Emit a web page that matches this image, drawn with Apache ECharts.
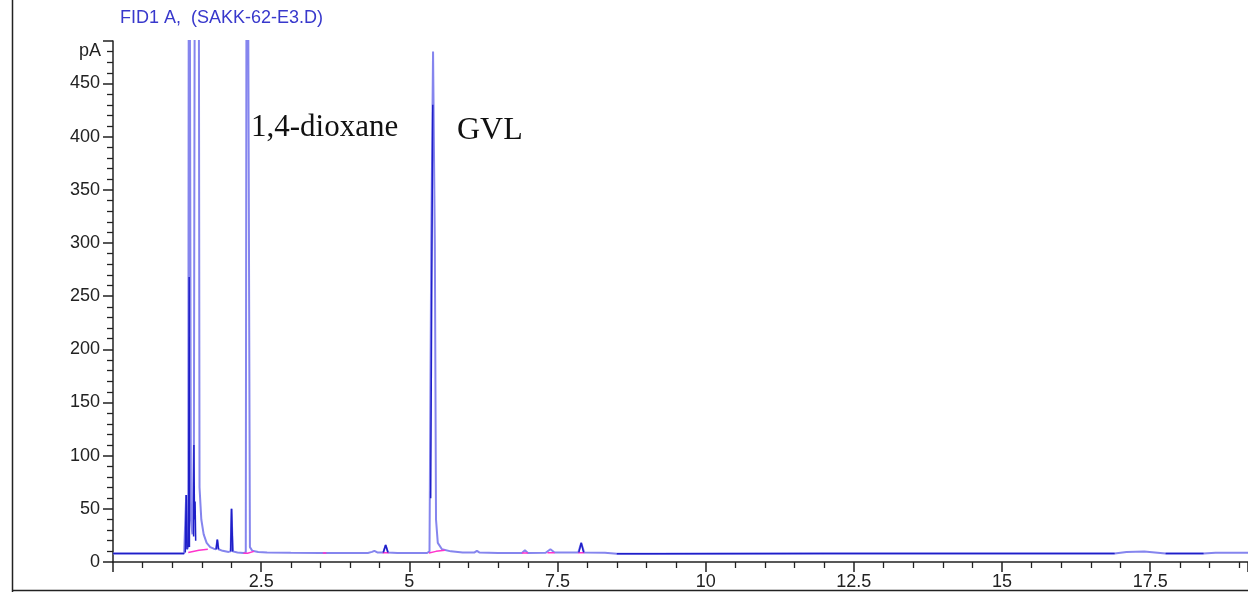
<!DOCTYPE html>
<html>
<head>
<meta charset="utf-8">
<script src="https://cdn.jsdelivr.net/npm/echarts@6/dist/echarts.min.js"></script>
<style>html,body{margin:0;padding:0;background:#fff;}#c{width:1248px;height:592px;}</style>
</head>
<body>
<div id="c"></div>
<script>
// Retention time (min), signal (pA)
const mainTrace = [
  [0,8],[1.2,8],[1.22,9],[1.235,63],[1.25,12],[1.27,14],[1.283,900],[1.3,900],[1.315,40],[1.34,26],[1.365,110],[1.39,900],[1.44,900],
  [1.46,70],[1.49,40],[1.53,26],[1.58,18],[1.64,14],[1.70,12.5],[1.74,12],[1.76,21],[1.78,12],[1.85,10.5],[1.95,9.5],[1.985,10],
  [2.0,50],[2.02,10],[2.1,9],[2.2,8.5],[2.24,9],[2.26,900],[2.29,900],[2.31,14],[2.35,10.5],[2.45,9.5],[2.6,9],[3.0,8.7],[3.5,8.5],
  [3.55,8.5],[3.57,10],[3.6,8.5],[4.3,8.5],[4.37,9.5],[4.41,10.5],[4.46,9],[4.56,9],[4.6,16],[4.64,9],[4.8,8.5],[5.3,8.5],[5.34,10],
  [5.37,300],[5.4,480],[5.43,300],[5.45,40],[5.48,18],[5.55,12],[5.7,10],[5.9,9],[6.1,9],[6.14,10.5],[6.18,9],[6.5,8.5],[6.9,8.5],
  [6.95,11],[7.0,8.5],[7.3,8.7],[7.38,12],[7.45,9],[7.85,9],[7.9,18],[7.95,9],[8.3,8.6],[8.5,7.8],[9.0,7.8],[12.0,8],[16.9,8],
  [17.1,9.5],[17.4,9.8],[17.76,8],[18.4,8],[18.6,8.6],[19.15,8.7]
];
const darkTrace = [
  [0,8],[1.2,8],null,
  [1.22,9],[1.235,63],[1.25,12],null,
  [1.275,14],[1.285,268],[1.29,14],null,
  [1.36,24],[1.365,110],[1.375,40],[1.385,57],[1.395,20],null,
  [1.74,12],[1.76,21],[1.78,12],null,
  [1.985,10],[2.0,50],[2.02,10],null,
  [4.56,9],[4.6,16],[4.64,9],null,
  [5.36,60],[5.38,280],[5.395,430],null,
  [7.86,9],[7.9,18],[7.94,9],null,
  [8.5,7.8],[9.0,7.8],[12.0,8],[16.9,8],null,
  [17.76,8],[18.4,8]
];
const baseMarks = [
  [1.27,9],[1.45,11],[1.6,12],null,
  [2.2,8.3],[2.27,8.3],[2.38,10],null,
  [3.54,8.4],[3.6,8.4],null,
  [4.55,8.6],[4.65,8.6],null,
  [5.33,8.5],[5.45,10],[5.6,11],null,
  [6.9,8.5],[7.0,8.5],null,
  [7.33,8.6],[7.45,8.6],null,
  [7.85,8.7],[7.95,8.7]
];
const xTicks = { min: 0, max: 19.15, step: 2.5 };
const yTicks = { min: 0, max: 490, step: 50 };
const titleText = 'FID1 A,  (SAKK-62-E3.D)';
const peakLabels = ['1,4-dioxane', 'GVL'];

const chart = echarts.init(document.getElementById('c'), null, {renderer: 'canvas'});
const axisFont = {fontFamily: 'Liberation Sans, Arial, sans-serif', fontSize: 18, color: '#222'};
chart.setOption({
  animation: false,
  backgroundColor: '#fff',
  grid: {left: 113, right: 0, top: 41, bottom: 30, containLabel: false},
  xAxis: {
    type: 'value', min: xTicks.min, max: xTicks.max, interval: xTicks.step,
    axisLine: {show: true, onZero: false, lineStyle: {color: '#222', width: 1.5}},
    axisTick: {show: true, length: 10, lineStyle: {color: '#222', width: 1.5}},
    minorTick: {show: true, splitNumber: 5, length: 6, lineStyle: {color: '#222', width: 1.3}},
    splitLine: {show: false},
    axisLabel: Object.assign({margin: 11, showMaxLabel: false, showMinLabel: false,
      formatter: v => (v > 0 && Math.abs(v / 2.5 - Math.round(v / 2.5)) < 1e-6) ? String(v) : ''}, axisFont)
  },
  yAxis: {
    type: 'value', min: yTicks.min, max: yTicks.max, interval: yTicks.step,
    axisLine: {show: true, lineStyle: {color: '#222', width: 1.5}},
    axisTick: {show: true, length: 10, lineStyle: {color: '#222', width: 1.5}},
    minorTick: {show: true, splitNumber: 5, length: 6, lineStyle: {color: '#222', width: 1.3}},
    splitLine: {show: false},
    axisLabel: Object.assign({margin: 13, showMaxLabel: false,
      formatter: v => (v % 50 === 0 && v <= 450) ? String(v) : ''}, axisFont)
  },
  series: [
    {type: 'line', data: mainTrace, showSymbol: false, clip: true, z: 2,
     lineStyle: {color: '#8585ee', width: 2}},
    {type: 'line', data: baseMarks, showSymbol: false, clip: true, connectNulls: false, z: 3,
     lineStyle: {color: '#ff33cc', width: 1.5}},
    {type: 'line', data: darkTrace, showSymbol: false, clip: true, connectNulls: false, z: 4,
     lineStyle: {color: '#1f1fc8', width: 1.5}}
  ],
  graphic: [
    {type: 'line', shape: {x1: 12.5, y1: 0, x2: 12.5, y2: 592}, style: {stroke: '#222', lineWidth: 1.5}},
    {type: 'line', shape: {x1: 12, y1: 590.5, x2: 1248, y2: 590.5}, style: {stroke: '#222', lineWidth: 1.5}},
    {type: 'text', left: 120, top: 9, style: {text: titleText, fill: '#3838cc',
      font: '18px "Liberation Sans", Arial, sans-serif'}},
    {type: 'text', right: 1248 - 101, top: 42, style: {text: 'pA', fill: '#222',
      font: '18px "Liberation Sans", Arial, sans-serif'}},
    {type: 'text', left: 251, top: 112, style: {text: peakLabels[0], fill: '#111',
      font: '31px "Liberation Serif", "Times New Roman", serif'}},
    {type: 'text', left: 457, top: 115, style: {text: peakLabels[1], fill: '#111',
      font: '32px "Liberation Serif", "Times New Roman", serif'}}
  ]
});
</script>
</body>
</html>
